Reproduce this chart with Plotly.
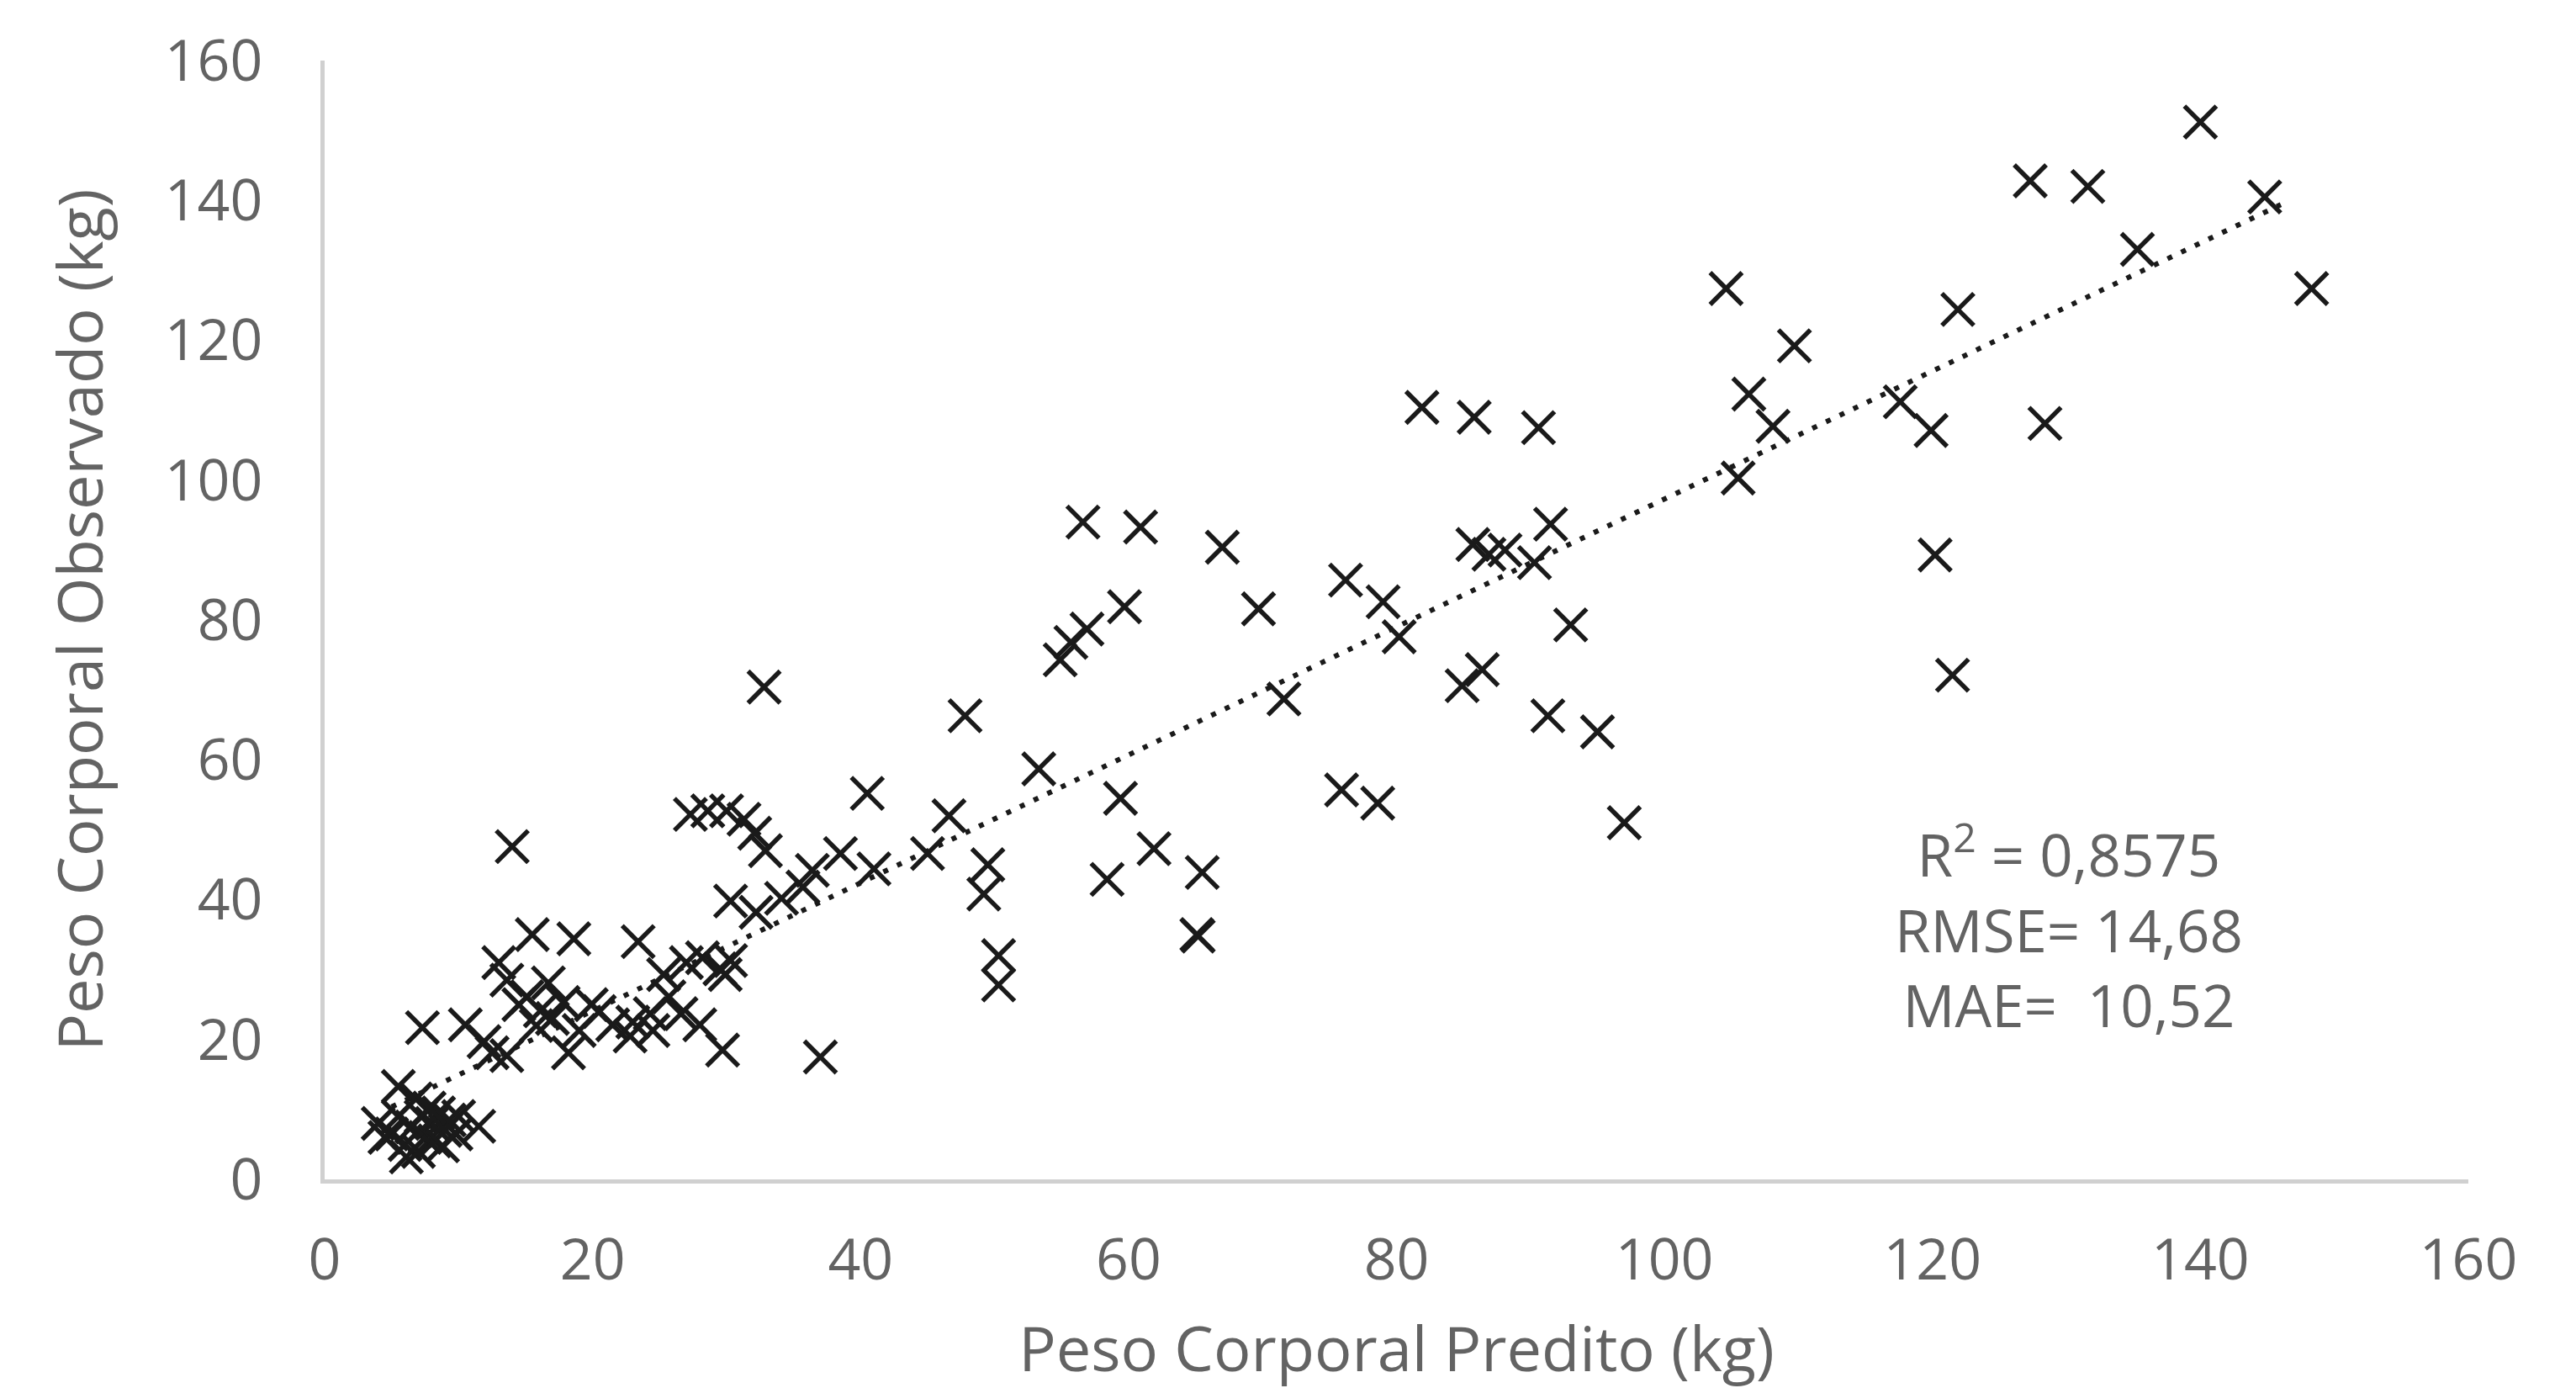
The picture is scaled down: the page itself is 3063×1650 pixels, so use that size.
import plotly.graph_objects as go

pred = [
    140.0, 127.3, 131.6, 144.8, 135.3, 148.3, 104.6, 121.9, 109.7, 106.3, 108.1, 117.6, 119.9, 128.4, 105.5, 120.2, 121.5,
    81.9, 85.8, 90.6, 91.5, 85.7, 86.9, 88.1, 90.3, 93.0, 86.4, 84.9, 91.3, 95.0, 97.0,
    76.2, 79.0, 80.2, 71.6, 75.9, 78.6,
    67.0, 69.7, 56.6, 60.9, 59.7, 56.9, 55.7, 54.9,
    53.3, 59.4, 61.9, 58.4, 65.5, 65.1, 65.2,
    47.8, 46.6, 40.5, 49.5, 49.2, 50.3, 50.3, 45.0,
    32.8, 37.0, 14.0,
    27.3, 28.6, 30.0, 31.3, 32.1, 32.9, 38.5, 36.4, 41.0, 35.7, 30.3, 34.1, 32.2, 30.3, 29.9, 29.7,
    15.5, 18.6, 23.4, 13.0, 13.6, 15.1, 16.7, 16.1, 17.8, 14.5, 19.9, 19.0, 21.5, 22.8, 24.5, 24.3, 25.7, 25.3,
    27.0, 28.2, 29.5, 26.6, 28.0, 18.2, 11.9, 10.5, 12.5, 7.3, 13.6, 20.5, 23.0, 15.8, 17.0,
    5.5, 6.8, 4.0, 5.0, 5.5, 6.0, 6.5, 7.0, 7.2, 7.5, 8.0, 8.2, 8.5, 9.0, 9.3, 9.8, 10.0, 11.5, 6.1, 4.5, 8.8, 7.8,
]
obs = [
    151.2, 142.8, 142.0, 140.5, 133.0, 127.4, 127.4, 124.4, 119.2, 112.3, 107.7, 111.2, 107.1, 108.1, 100.3, 89.3, 72.1,
    110.4, 109.0, 107.5, 93.7, 90.8, 89.4, 90.0, 88.2, 79.3, 72.9, 70.6, 66.3, 64.0, 51.0,
    85.7, 82.6, 77.6, 68.7, 55.7, 53.8,
    90.4, 81.6, 94.0, 93.3, 81.9, 78.7, 76.8, 74.3,
    58.7, 54.5, 47.3, 42.9, 43.9, 35.0, 34.8,
    66.3, 52.0, 55.2, 45.0, 40.8, 32.0, 27.8, 46.6,
    70.4, 17.5, 47.6,
    52.2, 52.7, 52.7, 51.5, 49.5, 47.0, 46.6, 44.2, 44.4, 41.8, 39.8, 40.2, 38.2, 31.3, 29.3, 18.5,
    35.0, 34.4, 34.0, 31.0, 28.5, 26.1, 28.1, 24.1, 25.3, 25.0, 25.0, 21.3, 22.1, 20.5, 21.3, 23.7, 26.1, 29.3,
    31.0, 31.7, 30.1, 23.7, 22.1, 18.1, 19.7, 22.1, 18.1, 21.7, 17.7, 24.0, 22.5, 22.0, 23.0,
    13.3, 11.5, 8.0, 6.5, 9.0, 5.0, 7.5, 4.0, 9.0, 6.0, 8.0, 5.5, 9.5, 7.0, 8.5, 6.5, 9.0, 7.6, 3.2, 6.0, 4.8, 10.2,
]

# Linear trend line
trend_slope = 0.915
trend_intercept = 5.8
trend_x = [5.0, 146.0]
trend_y = [trend_intercept + trend_slope * v for v in trend_x]

tick_vals = [0, 20, 40, 60, 80, 100, 120, 140, 160]
tick_text = ["0", "20", "40", "60", "80", "100", "120", "140", "160"]

stats_text = "R<sup>2</sup> = 0,8575<br>RMSE= 14,68<br>MAE=  10,52"

FONT = "Open Sans"
GREY = "#636363"

fig = go.Figure()
fig.add_trace(go.Scatter(
    x=trend_x, y=trend_y, mode="lines",
    line=dict(color="#1a1a1a", width=6, dash="6px,12px"),
    showlegend=False, hoverinfo="skip",
))
fig.add_trace(go.Scatter(
    x=pred, y=obs, mode="markers",
    marker=dict(symbol="x-thin", size=38, line=dict(color="#1a1a1a", width=5.5)),
    showlegend=False,
))

fig.add_annotation(
    x=130.2, y=36.2, xref="x", yref="y", text=stats_text, showarrow=False,
    align="center", font=dict(family=FONT, size=69, color=GREY),
)

axis_common = dict(
    range=[0, 160], tickvals=tick_vals, ticktext=tick_text,
    showgrid=False, zeroline=False, showline=True,
    linecolor="#d0d0d0", linewidth=5, ticks="",
    tickfont=dict(family=FONT, size=68, color=GREY),
)

fig.update_layout(
    width=3063, height=1650,
    margin=dict(l=378, r=136, t=64, b=256),
    paper_bgcolor="white", plot_bgcolor="white",
    xaxis=dict(**axis_common, ticklabelstandoff=32,
               title=dict(text="Peso Corporal Predito (kg)", standoff=40,
                          font=dict(family=FONT, size=74, color=GREY))),
    yaxis=dict(**axis_common, ticklabelstandoff=55,
               title=dict(text="Peso Corporal Observado (kg)", standoff=50,
                          font=dict(family=FONT, size=74, color=GREY))),
)

fig.write_html("out.html")
